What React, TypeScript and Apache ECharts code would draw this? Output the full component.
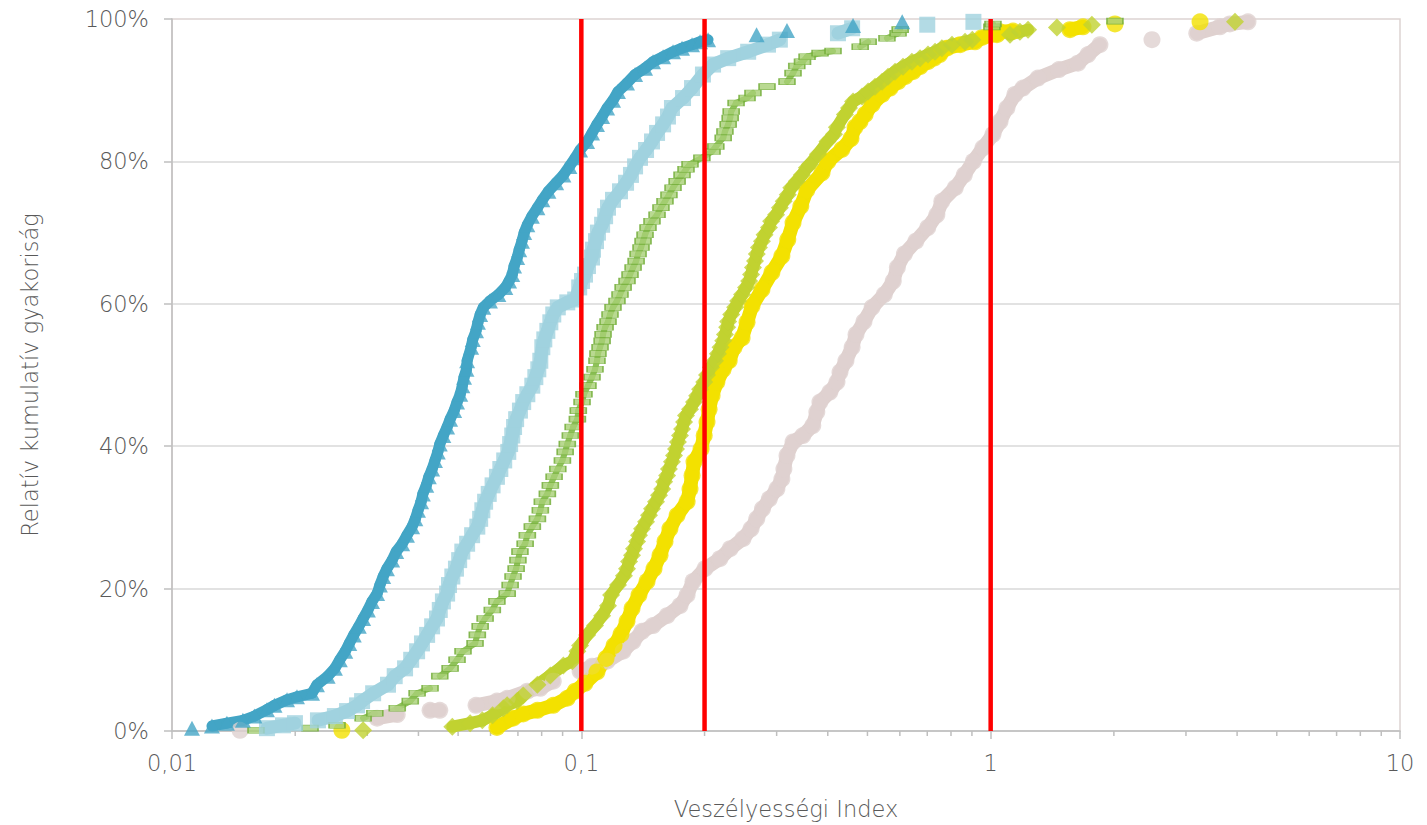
import React, { useEffect, useRef } from "react";
import * as echarts from "echarts";

// ---- data (x = Veszélyességi Index, y = relative cumulative frequency in %) ----
const tealPoints: [number, number][] = [
  [0.01119, 0.4], [0.01252, 0.7], [0.01362, 1.1], [0.0149, 1.5], [0.0159, 2.1], [0.01706, 3.0], [0.0178, 3.6],
  [0.0191, 4.4], [0.0202, 4.8], [0.02198, 5.3], [0.0226, 6.5], [0.024, 7.7], [0.025, 8.8], [0.0257, 10],
  [0.0265, 11.2], [0.0271, 12.3], [0.0278, 13.5], [0.0286, 14.7], [0.0293, 15.8], [0.0301, 17], [0.0308, 18.2],
  [0.0317, 19.3], [0.0322, 20.5], [0.0328, 21.7], [0.0335, 22.8], [0.0345, 24], [0.0353, 25.2], [0.0365, 26.3],
  [0.0375, 27.5], [0.0386, 28.7], [0.0393, 29.8], [0.0399, 31], [0.0406, 32.2], [0.041, 33.3], [0.0418, 34.5],
  [0.0424, 35.7], [0.0432, 36.8], [0.0439, 38], [0.0446, 39.2], [0.0451, 40.3], [0.046, 41.5], [0.047, 42.7],
  [0.0478, 43.8], [0.0489, 45], [0.0497, 46.2], [0.0506, 47.3], [0.0512, 48.5], [0.0517, 49.7], [0.0524, 50.8],
  [0.0526, 52], [0.0538, 53.9], [0.0543, 55], [0.0553, 56.2], [0.0559, 57.4], [0.0566, 58.5], [0.0576, 59.5],
  [0.0598, 60.4], [0.0627, 61.3], [0.0652, 62.3], [0.0666, 63.2], [0.0678, 64.1], [0.0685, 65.3], [0.0697, 66.5],
  [0.0705, 67.6], [0.0716, 68.8], [0.0725, 70], [0.0738, 71.1], [0.0757, 72.3], [0.0781, 73.5], [0.0803, 74.6],
  [0.0831, 75.8], [0.0868, 77], [0.0904, 78.1], [0.0935, 79.3], [0.0966, 80.5], [0.0993, 81.6], [0.1033, 82.8],
  [0.1062, 84], [0.1092, 85.2], [0.1124, 86.3], [0.1156, 87.5], [0.1195, 88.6], [0.1229, 89.8], [0.1293, 91],
  [0.1353, 92.2], [0.1431, 93.1], [0.1497, 94], [0.1584, 94.7], [0.1675, 95.4], [0.1762, 95.9], [0.1864, 96.4],
  [0.195, 96.8], [0.204, 97.1], [0.268, 97.8], [0.318, 98.4], [0.461, 99.1], [0.608, 99.6],
];

const lightBluePoints: [number, number][] = [
  [0.01706, 0.4], [0.01867, 0.8], [0.01997, 1.1], [0.02273, 1.5], [0.025, 2.1], [0.02677, 2.8], [0.02832, 3.6],
  [0.02913, 4.2], [0.031, 5.3], [0.0337, 6.5], [0.035, 7.7], [0.0371, 8.8], [0.0384, 10], [0.0397, 11.2],
  [0.0408, 12.3], [0.042, 13.5], [0.0432, 14.7], [0.0444, 15.8], [0.0451, 17], [0.0459, 18.2], [0.047, 19.3],
  [0.0475, 20.5], [0.0484, 21.7], [0.0494, 22.8], [0.0503, 24], [0.0512, 25.2], [0.0526, 26.3], [0.0541, 27.5],
  [0.0557, 28.7], [0.0566, 29.8], [0.0573, 31], [0.0582, 32.2], [0.0594, 33.3], [0.0607, 34.5], [0.0622, 35.7],
  [0.0634, 36.8], [0.0648, 38], [0.0663, 39.2], [0.067, 40.3], [0.0678, 41.5], [0.0685, 42.7], [0.0693, 43.8],
  [0.0708, 45], [0.0721, 46.2], [0.0738, 47.3], [0.0759, 48.5], [0.0772, 49.7], [0.0785, 50.8], [0.0794, 52],
  [0.0803, 53.9], [0.0812, 55], [0.0826, 56.2], [0.084, 57.4], [0.0854, 58.5], [0.0876, 59.5], [0.0924, 60.2],
  [0.0966, 60.6], [0.0988, 62.3], [0.1004, 63.2], [0.1021, 64.1], [0.1038, 65.3], [0.1062, 66.5], [0.1068, 67.6],
  [0.1086, 68.8], [0.1098, 70], [0.1124, 71.1], [0.1143, 72.3], [0.1162, 73.5], [0.1195, 74.6], [0.1243, 75.8],
  [0.1286, 77], [0.1322, 78.1], [0.1353, 79.3], [0.1391, 80.5], [0.1439, 81.6], [0.1488, 82.8], [0.1531, 84],
  [0.1584, 85.2], [0.1628, 86.3], [0.1665, 87.5], [0.1772, 88.9], [0.1864, 90.3], [0.1982, 92.2], [0.2098, 93.6],
  [0.2284, 94.5], [0.2556, 95.4], [0.2858, 96.4], [0.3055, 97.1], [0.4236, 98], [0.4587, 98.7], [0.7, 99.2],
  [0.9075, 99.6],
];

const greenPoints: [number, number][] = [
  [0.01604, 0.1], [0.02174, 0.4], [0.0253, 0.8], [0.0293, 1.8], [0.0313, 2.5], [0.0355, 3.2], [0.0382, 4.2],
  [0.0397, 5.3], [0.0427, 6], [0.0451, 7.7], [0.0478, 8.8], [0.0497, 10], [0.0514, 11.2], [0.055, 12.3],
  [0.0557, 13.5], [0.0566, 14.7], [0.0582, 15.8], [0.0606, 17], [0.0622, 18.2], [0.0659, 19.3], [0.067, 20.5],
  [0.0681, 21.7], [0.0693, 22.8], [0.07, 24], [0.0708, 25.2], [0.0729, 26.3], [0.0738, 27.5], [0.0759, 28.7],
  [0.0781, 29.8], [0.0794, 31], [0.0803, 32.2], [0.0826, 33.3], [0.084, 34.5], [0.0858, 35.7], [0.0876, 36.8],
  [0.0899, 38], [0.0913, 39.2], [0.0924, 40.3], [0.094, 41.5], [0.0955, 42.7], [0.0978, 43.8], [0.0983, 45],
  [0.1004, 46.2], [0.1015, 47.3], [0.1038, 48.5], [0.1062, 49.7], [0.108, 50.8], [0.1092, 52], [0.1098, 53],
  [0.1111, 53.9], [0.1124, 54.8], [0.113, 55.7], [0.1143, 56.7], [0.1162, 57.5], [0.1175, 58.5], [0.1195, 59.5],
  [0.1222, 60.4], [0.1243, 61.3], [0.1265, 62.3], [0.1293, 63.2], [0.1315, 64.1], [0.1338, 65.1], [0.1361, 66],
  [0.1376, 67], [0.1399, 67.9], [0.1415, 68.8], [0.1431, 69.7], [0.1455, 70.7], [0.1488, 71.6], [0.1531, 72.5],
  [0.1565, 73.5], [0.1601, 74.4], [0.1637, 75.3], [0.1675, 76.3], [0.1714, 77.2], [0.1762, 78.1], [0.1802, 78.9],
  [0.1843, 79.6], [0.197, 80.5], [0.2086, 81.4], [0.2131, 82.1], [0.2221, 83.3], [0.2243, 84.2], [0.2284, 85.2],
  [0.231, 86.1], [0.2323, 87], [0.2388, 88.2], [0.254, 88.9], [0.2626, 89.6], [0.2842, 90.5], [0.318, 91.2],
  [0.329, 92.4], [0.336, 93.4], [0.347, 94], [0.356, 94.7], [0.383, 95.2], [0.412, 95.5], [0.48, 96.1],
  [0.502, 96.8], [0.558, 97.3], [0.594, 98], [0.601, 98.5], [1.007, 98.9], [1.013, 99.3], [2.012, 99.7],
];

const yellowGreenPoints: [number, number][] = [
  [0.0293, 0.1], [0.0484, 0.6], [0.0535, 1.1], [0.0573, 1.5], [0.0607, 2.2], [0.0645, 3.2], [0.0659, 3.6],
  [0.0697, 4.2], [0.0721, 5], [0.0781, 6.5], [0.084, 7.8], [0.0904, 9.2], [0.0951, 9.8], [0.0978, 11.2],
  [0.0993, 12], [0.1033, 13.5], [0.108, 14.8], [0.1124, 16.2], [0.1162, 17.6], [0.1182, 19.1], [0.1229, 20.5],
  [0.1271, 21.8], [0.1293, 22.8], [0.1308, 23.8], [0.133, 24.7], [0.1345, 25.6], [0.1368, 26.6], [0.1383, 27.5],
  [0.1407, 28.4], [0.1439, 29.4], [0.1463, 30.3], [0.1488, 31.2], [0.1522, 32.2], [0.1548, 33.1], [0.1576, 34],
  [0.1593, 35], [0.162, 35.9], [0.1637, 36.8], [0.1665, 37.8], [0.1684, 38.7], [0.1703, 39.6], [0.1722, 40.6],
  [0.1742, 41.5], [0.1762, 42.4], [0.1782, 43.4], [0.1802, 44.3], [0.1843, 45.2], [0.1885, 46.2], [0.1918, 47.1],
  [0.195, 48], [0.1996, 49], [0.2028, 50], [0.2074, 51.1], [0.212, 52], [0.2156, 53], [0.2188, 53.9],
  [0.2221, 54.8], [0.2243, 55.7], [0.2271, 56.7], [0.2284, 57.5], [0.2323, 58.5], [0.2375, 59.5], [0.2415, 60.4],
  [0.247, 61.3], [0.2526, 62.3], [0.257, 63.2], [0.2598, 64.1], [0.2626, 65.1], [0.2656, 66], [0.2683, 67],
  [0.2716, 67.9], [0.2762, 68.8], [0.2803, 69.7], [0.2873, 70.7], [0.2908, 71.6], [0.299, 72.5], [0.3055, 73.5],
  [0.3121, 74.4], [0.3194, 75.3], [0.3257, 76.3], [0.3359, 77.2], [0.3457, 78.1], [0.3556, 79.1], [0.362, 79.6],
  [0.3784, 81], [0.3994, 82.8], [0.4142, 83.8], [0.421, 84.8], [0.4404, 86.6], [0.4508, 87.5], [0.4612, 88.4],
  [0.4851, 89.1], [0.502, 89.8], [0.5218, 90.5], [0.543, 91.2], [0.5615, 91.9], [0.584, 92.6], [0.6108, 93.3],
  [0.642, 94], [0.6722, 94.5], [0.703, 95], [0.7313, 95.4], [0.76, 95.9], [0.8046, 96.4], [0.8659, 96.8],
  [0.902, 97.1], [1.115, 97.8], [1.179, 98.2], [1.234, 98.5], [1.452, 98.8], [1.767, 99.2], [3.953, 99.6],
];

const yellowPoints: [number, number][] = [
  [0.026, 0.1], [0.0622, 0.5], [0.0681, 1.8], [0.0721, 2.4], [0.0781, 2.9], [0.0854, 3.6], [0.0924, 4.6],
  [0.0966, 5.6], [0.1021, 6.7], [0.1092, 8.3], [0.1149, 10.2], [0.1202, 12], [0.125, 13.6], [0.1293, 15.4],
  [0.133, 17.2], [0.1383, 19.1], [0.1447, 21], [0.1505, 22.8], [0.1557, 24.7], [0.1601, 26.6], [0.1646, 28.4],
  [0.1714, 30.3], [0.1813, 32.2], [0.1843, 34], [0.1864, 35.9], [0.1885, 37.8], [0.1961, 39.6], [0.1996, 41.5],
  [0.2028, 43.4], [0.2052, 45.2], [0.2086, 47.1], [0.2144, 49], [0.2221, 50.8], [0.2297, 52], [0.2362, 53.9],
  [0.247, 55.2], [0.254, 57.4], [0.2612, 59.7], [0.2762, 62], [0.2921, 64.4], [0.309, 66.7], [0.3194, 69],
  [0.329, 71.4], [0.3437, 73.7], [0.3556, 76], [0.3873, 78.4], [0.4002, 80], [0.4333, 81.7], [0.4558, 83.2],
  [0.4662, 84.8], [0.4795, 85.6], [0.4935, 86.6], [0.5134, 88], [0.543, 89.4], [0.568, 90.3], [0.5939, 91.2],
  [0.6177, 91.9], [0.6458, 92.6], [0.6722, 93.3], [0.7021, 94], [0.7271, 94.5], [0.7506, 95], [0.7808, 95.9],
  [0.8424, 96.4], [0.9161, 96.8], [0.9526, 97.4], [1.036, 97.8], [1.054, 98.2], [1.134, 98.3], [1.562, 98.5],
  [1.681, 98.9], [2.012, 99.3], [3.247, 99.6],
];

const pinkPoints: [number, number][] = [
  [0.01466, 0.1], [0.0317, 1.8], [0.0355, 2.3], [0.0427, 2.9], [0.0451, 2.9], [0.0553, 3.6], [0.0622, 4.2],
  [0.0659, 4.6], [0.0738, 5.6], [0.0794, 6], [0.0854, 7], [0.0993, 8.4], [0.1062, 9.1], [0.1156, 9.8],
  [0.1265, 11.2], [0.1338, 12.6], [0.1407, 14], [0.1497, 14.8], [0.162, 16.2], [0.1742, 17.6], [0.1813, 19.1],
  [0.1874, 21], [0.2005, 22.8], [0.218, 24.2], [0.231, 25.6], [0.2483, 27], [0.2598, 28.4], [0.2683, 29.8],
  [0.2771, 31.2], [0.2879, 32.6], [0.3004, 34], [0.309, 35.4], [0.3125, 36.8], [0.318, 38.7], [0.329, 40.6],
  [0.3477, 41.5], [0.3677, 42.9], [0.3761, 44.8], [0.3827, 46.2], [0.4048, 47.6], [0.4213, 49], [0.4284, 50.4],
  [0.443, 52], [0.4587, 53.9], [0.4688, 55.7], [0.4903, 57.5], [0.5134, 59.5], [0.5497, 61.3], [0.5782, 63.2],
  [0.5916, 65.1], [0.6155, 67], [0.6565, 68.8], [0.7021, 70.7], [0.7389, 72.5], [0.7599, 74.4], [0.8193, 76.3],
  [0.862, 78.1], [0.9069, 80], [0.9579, 81.9], [1.013, 83.8], [1.054, 85.6], [1.096, 87.5], [1.146, 89.4],
  [1.199, 90.3], [1.305, 91.7], [1.468, 92.9], [1.634, 93.8], [1.729, 95], [1.849, 96.4], [2.478, 97.1],
  [3.188, 98], [3.631, 98.9], [3.841, 99.3], [4.252, 99.6],
];

// red reference lines on the x axis
const thresholdX = [0.1, 0.2, 1];
const yRange = [0, 100];

// log axis minor tick positions
const minorTicks = [
  0.02, 0.03, 0.04, 0.05, 0.06, 0.07, 0.08, 0.09,
  0.2, 0.3, 0.4, 0.5, 0.6, 0.7, 0.8, 0.9,
  2, 3, 4, 5, 6, 7, 8, 9,
];

const FONT = "'DejaVu Sans', 'Open Sans', sans-serif";
const FONT_SIZE = 22.5;
const FONT_WEIGHT = 200;
const TEXT_COLOR = "#595959";
const AXIS_COLOR = "#bfbfbf";

// consecutive point pairs of a series (used to fill the dense body of a marker band)
const pairsOf = (pts: [number, number][]) =>
  pts.slice(0, -1).map((p, i) => [p[0], p[1], pts[i + 1][0], pts[i + 1][1]]);

export default function App() {
  const ref = useRef<HTMLDivElement>(null);

  useEffect(() => {
    document.body.style.margin = "0";
    if (!ref.current) return;
    const chart = echarts.init(ref.current, undefined, { renderer: "svg" });

    const scatter = (
      name: string,
      data: [number, number][],
      symbol: string,
      size: number | number[],
      itemStyle: any
    ) => ({
      name,
      type: "scatter",
      data,
      symbol,
      symbolSize: size,
      itemStyle,
      silent: true,
      emphasis: { disabled: true },
    });

    // band filler: joins neighbouring markers only where they already (nearly) touch
    const band = (pts: [number, number][], color: string, width: number, maxGap: number) => ({
      type: "custom",
      silent: true,
      clip: false,
      data: pairsOf(pts),
      encode: { x: [0, 2], y: [1, 3] },
      renderItem: (_p: any, api: any) => {
        const a = api.coord([api.value(0), api.value(1)]);
        const b = api.coord([api.value(2), api.value(3)]);
        const d = Math.hypot(b[0] - a[0], b[1] - a[1]);
        if (d > maxGap) return null;
        return {
          type: "line",
          shape: { x1: a[0], y1: a[1], x2: b[0], y2: b[1] },
          style: { stroke: color, lineWidth: width, lineCap: "round" },
        };
      },
    });

    const textStyle = { color: TEXT_COLOR, fontSize: FONT_SIZE, fontFamily: FONT, fontWeight: FONT_WEIGHT };

    const option: any = {
      animation: false,
      backgroundColor: "#ffffff",
      textStyle: { fontFamily: FONT },
      grid: {
        left: 172,
        right: 27,
        top: 19,
        bottom: 92,
        show: true,
        borderColor: "#ddd3d2",
        borderWidth: 1.5,
        backgroundColor: "transparent",
      },
      xAxis: {
        type: "log",
        logBase: 10,
        min: 0.01,
        max: 10,
        name: "Veszélyességi Index",
        nameLocation: "middle",
        nameGap: 66,
        nameTextStyle: textStyle,
        axisLine: { show: true, lineStyle: { color: AXIS_COLOR, width: 1.5 } },
        axisTick: { show: true, length: 8, lineStyle: { color: AXIS_COLOR, width: 1.5 } },
        splitLine: { show: false },
        minorTick: { show: false },
        axisLabel: {
          ...textStyle,
          margin: 20,
          formatter: (v: number) => String(+Number(v).toPrecision(6)).replace(".", ","),
        },
      },
      yAxis: {
        type: "value",
        min: 0,
        max: 100,
        interval: 20,
        name: "Relatív kumulatív gyakoriság",
        nameLocation: "middle",
        nameGap: 131,
        nameTextStyle: textStyle,
        axisLine: { show: true, lineStyle: { color: AXIS_COLOR, width: 1.5 } },
        axisTick: { show: true, length: 8, lineStyle: { color: AXIS_COLOR, width: 1.5 } },
        splitLine: { show: true, showMaxLine: false, lineStyle: { color: "#d9d9d9", width: 1.5 } },
        axisLabel: {
          ...textStyle,
          margin: 23,
          formatter: "{value}%",
        },
      },
      series: [
        {
          type: "custom",
          silent: true,
          clip: false,
          data: minorTicks.map((v) => [v, yRange[0]]),
          encode: { x: 0, y: 1 },
          renderItem: (_p: any, api: any) => {
            const pt = api.coord([api.value(0), api.value(1)]);
            return {
              type: "line",
              shape: { x1: pt[0], y1: pt[1], x2: pt[0], y2: pt[1] + 5 },
              style: { stroke: AXIS_COLOR, lineWidth: 1.5 },
            };
          },
          z: 1,
        },
        band(pinkPoints, "#dfd1cf", 14, 26),
        scatter("pink", pinkPoints, "circle", 17, { color: "#dfd1cf" }),
        band(yellowPoints, "#f2e100", 14, 26),
        scatter("yellow", yellowPoints, "circle", 17, { color: "#f2e100" }),
        band(yellowGreenPoints, "#c0d231", 12, 24),
        scatter("yellowgreen", yellowGreenPoints, "diamond", 18, { color: "#c0d231" }),
        band(greenPoints, "#8fc25a", 6, 15),
        scatter("green", greenPoints, "rect", [16, 6], {
          color: "#a8d076",
          borderColor: "#6fab35",
          borderWidth: 1,
        }),
        band(lightBluePoints, "#a0d2df", 13, 22),
        scatter("lightblue", lightBluePoints, "rect", 16, { color: "#a0d2df" }),
        band(tealPoints, "#43a5c5", 11, 17),
        scatter("teal", tealPoints, "triangle", [16, 15], { color: "#43a5c5" }),
        ...thresholdX.map((x) => ({
          type: "line",
          silent: true,
          data: yRange.map((y) => [x, y]),
          symbol: "none",
          lineStyle: { color: "#ff0000", width: 4.5 },
          z: 5,
        })),
      ],
    };

    chart.setOption(option);
    return () => chart.dispose();
  }, []);

  return (
    <div
      ref={ref}
      style={{ position: "fixed", left: 0, top: 0, width: 1427, height: 825, background: "#fff" }}
    />
  );
}
